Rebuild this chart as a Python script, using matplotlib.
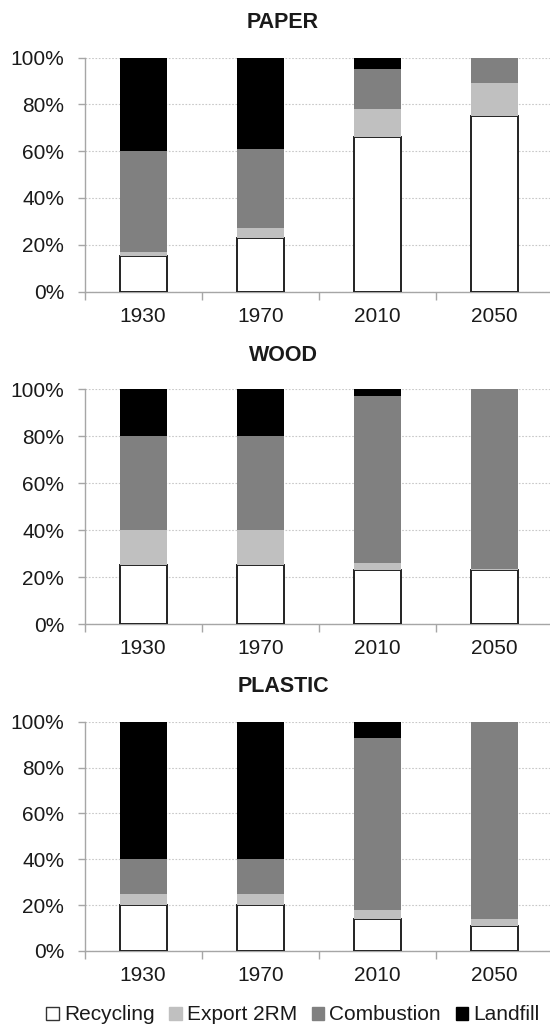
import matplotlib
matplotlib.use("Agg")
import matplotlib.pyplot as plt
from matplotlib.patches import Patch
import numpy as np

plt.rcParams['font.family'] = ['Liberation Sans', 'DejaVu Sans']

years = ["1930", "1970", "2010", "2050"]
streams = ["Recycling", "Export 2RM", "Combustion", "Landfill"]

# shares in percent, per material and treatment route
paper_recycling = [15, 23, 66, 75]
paper_export = [2, 4, 12, 14]
paper_combustion = [43, 34, 17, 11]
paper_landfill = [40, 39, 5, 0]

wood_recycling = [25, 25, 23, 23]
wood_export = [15, 15, 3, 0.5]
wood_combustion = [40, 40, 71, 76.5]
wood_landfill = [20, 20, 3, 0]

plastic_recycling = [20, 20, 14, 11]
plastic_export = [5, 5, 4, 3]
plastic_combustion = [15, 15, 75, 86]
plastic_landfill = [60, 60, 7, 0]

materials = [
    ("PAPER", [paper_recycling, paper_export, paper_combustion, paper_landfill]),
    ("WOOD", [wood_recycling, wood_export, wood_combustion, wood_landfill]),
    ("PLASTIC", [plastic_recycling, plastic_export, plastic_combustion, plastic_landfill]),
]

fills = ["white", "#c0c0c0", "#808080", "black"]
edges = ["#222222", "none", "none", "none"]

W, H = 550, 1026
fig = plt.figure(figsize=(W / 100, H / 100), dpi=100)

# (top, bottom) pixel rows of each panel's plotting area
panel_rows = [(57.7, 291.5), (389.3, 624.0), (721.7, 951.0)]
title_rows = [22.5, 355.0, 686.7]
left_px, right_px = 84.5, 553.4

grid_col = "#c8c8c8"
axis_col = "#a6a6a6"

for (title, series), (top, bot), trow in zip(materials, panel_rows, title_rows):
    ax = fig.add_axes([left_px / W, 1 - bot / H, (right_px - left_px) / W, (bot - top) / H])
    x = np.arange(len(years))
    base = np.zeros(len(years))
    for vals, fc, ec in zip(series, fills, edges):
        v = np.array(vals, dtype=float)
        ax.bar(x, v, 0.4, bottom=base, color=fc, edgecolor=ec,
               linewidth=1.4 if ec != "none" else 0, zorder=3)
        base += v
    ax.set_xlim(-0.5, len(years) - 0.5)
    ax.set_ylim(0, 100)
    ax.set_yticks(np.arange(0, 101, 20))
    ax.set_yticklabels([f"{t}%" for t in range(0, 101, 20)])
    ax.yaxis.grid(True, color=grid_col, linestyle=(0, (1.5, 1.5)), linewidth=0.8, zorder=0)
    ax.set_xticks(np.arange(-0.5, len(years), 1.0))
    ax.set_xticklabels([])
    ax.set_xticks(x, minor=True)
    ax.set_xticklabels(years, minor=True)
    ax.tick_params(axis='x', which='major', length=6, color=axis_col, width=1)
    ax.tick_params(axis='x', which='minor', length=0, pad=11, labelsize=15, labelcolor="#1a1a1a")
    ax.tick_params(axis='y', length=5, color=axis_col, width=1, pad=9.5, labelsize=15,
                   labelcolor="#1a1a1a")
    for s in ("top", "right"):
        ax.spines[s].set_visible(False)
    for s in ("left", "bottom"):
        ax.spines[s].set_color(axis_col)
        ax.spines[s].set_linewidth(1)
    ax.set_facecolor("white")
    fig.text(283 / W, 1 - trow / H, title, ha="center", va="center",
             fontsize=15.5, fontweight="bold", color="#1a1a1a")

handles = [Patch(facecolor=fc, edgecolor=("#333333" if i == 0 else fc), linewidth=1)
           for i, fc in enumerate(fills)]
fig.legend(handles, streams, loc="center", bbox_to_anchor=(293 / W, 1 - 1015 / H),
           ncol=4, frameon=False, fontsize=15, handlelength=0.6, handleheight=0.6,
           handletextpad=0.25, columnspacing=0.7, borderaxespad=0, labelcolor="#1a1a1a")

fig.savefig("out.png", dpi=100, facecolor="white")
